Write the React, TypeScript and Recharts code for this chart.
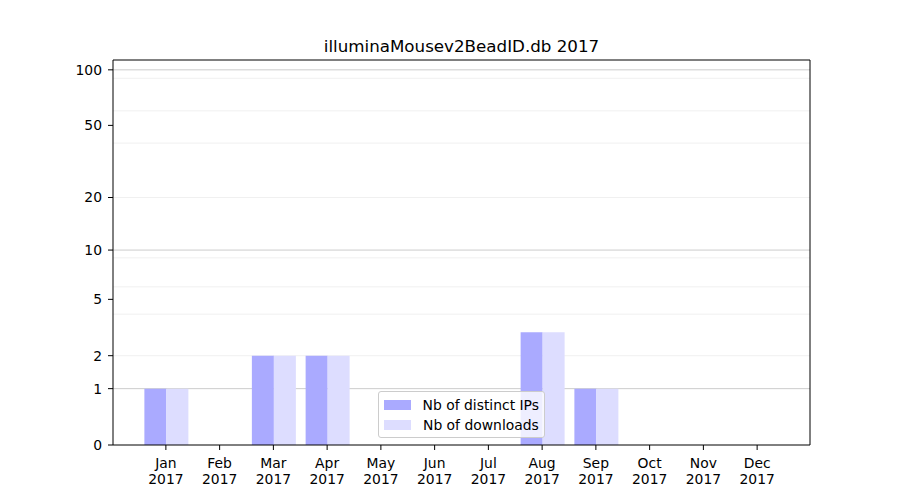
import React from "react";
import { BarChart, Bar, XAxis, YAxis, CartesianGrid, Legend } from "recharts";

const title = "illuminaMousev2BeadID.db 2017";
const year = "2017";
const months = ["Jan", "Feb", "Mar", "Apr", "May", "Jun", "Jul", "Aug", "Sep", "Oct", "Nov", "Dec"];
const distinctIps = [1, 0, 2, 2, 0, 0, 0, 3, 1, 0, 0, 0];
const downloads = [1, 0, 2, 2, 0, 0, 0, 3, 1, 0, 0, 0];
const yTickLabels = [0, 1, 2, 5, 10, 20, 50, 100];
const majorGrid = [1, 10, 100];
const minorGrid = [2, 3, 4, 5, 6, 7, 8, 9, 20, 30, 40, 50, 60, 70, 80, 90];
const yMax = 113;

// log(1 + x) scale, like the matplotlib original
const fwd = (v: number) => Math.log10(1 + v);
const inv = (v: number) => Math.round(Math.pow(10, v) - 1);

const data = months.map((m, i) => ({
  month: m,
  ips: fwd(distinctIps[i]),
  downloads: fwd(downloads[i]),
}));

const FONT = "DejaVu Sans, sans-serif";
const IPS_COLOR = "#aaaaff";
const DL_COLOR = "#ddddff";

const MonthTick = (props: any) => {
  const { x, y, payload } = props;
  return (
    <g transform={`translate(${x},${y})`}>
      <text textAnchor="middle" fontFamily={FONT} fontSize={13.9} fill="#000">
        <tspan x={0} dy={16}>{payload.value}</tspan>
        <tspan x={0} dy={16}>{year}</tspan>
      </text>
    </g>
  );
};

const LegendBox = () => (
  <div
    style={{
      boxSizing: "border-box",
      background: "rgba(255,255,255,0.8)",
      border: "1px solid #cccccc",
      borderRadius: 3,
      padding: "3px 5px",
      fontFamily: FONT,
      fontSize: 13.9,
      color: "#000",
      width: 167,
      height: 47,
      whiteSpace: "nowrap",
      textAlign: "left",
    }}
  >
    {[
      { label: "Nb of distinct IPs", color: IPS_COLOR },
      { label: "Nb of downloads", color: DL_COLOR },
    ].map((it) => (
      <div key={it.label} style={{ display: "flex", alignItems: "center", height: 20 }}>
        <span style={{ display: "inline-block", width: 27, height: 10, background: it.color, marginRight: 12 }} />
        <span>{it.label}</span>
      </div>
    ))}
  </div>
);

export default function App() {
  return (
    <div style={{ position: "absolute", left: 0, top: 0, width: 900, height: 500, background: "#fff" }}>
      <div
        style={{
          position: "absolute",
          left: 113,
          width: 697,
          top: 36,
          textAlign: "center",
          fontFamily: FONT,
          fontSize: 16.7,
          lineHeight: "20px",
          color: "#000",
        }}
      >
        {title}
      </div>
      <BarChart
        width={900}
        height={500}
        data={data}
        margin={{ top: 59, right: 89, bottom: 15, left: 0 }}
        barCategoryGap="10%"
        barGap={0}
      >
        <CartesianGrid vertical={false} horizontalValues={minorGrid.map(fwd)} stroke="#ececec" strokeWidth={0.8} />
        <CartesianGrid vertical={false} horizontalValues={majorGrid.map(fwd)} stroke="#cccccc" strokeWidth={1} />
        <XAxis
          dataKey="month"
          padding={{ left: 26, right: 26 }}
          height={40}
          tick={<MonthTick />}
          tickSize={5}
          tickLine={{ stroke: "#000" }}
          axisLine={{ stroke: "#000" }}
          interval={0}
        />
        <XAxis
          xAxisId="top"
          dataKey="month"
          orientation="top"
          padding={{ left: 26, right: 26 }}
          height={1}
          tick={false}
          tickLine={false}
          axisLine={{ stroke: "#000" }}
        />
        <YAxis
          type="number"
          domain={[0, fwd(yMax)]}
          ticks={yTickLabels.map(fwd)}
          tickFormatter={(v: number) => String(inv(v))}
          width={113}
          tickSize={5}
          tickMargin={6}
          tick={{ fontFamily: FONT, fontSize: 13.9, fill: "#000" }}
          tickLine={{ stroke: "#000" }}
          axisLine={{ stroke: "#000" }}
          allowDataOverflow
        />
        <YAxis
          yAxisId="right"
          orientation="right"
          type="number"
          domain={[0, fwd(yMax)]}
          width={1}
          tick={false}
          tickLine={false}
          axisLine={{ stroke: "#000" }}
        />
        <Legend
          layout="vertical"
          align="center"
          verticalAlign="middle"
          content={<LegendBox />}
          wrapperStyle={{ left: 378, top: 391, width: 167, height: 47 }}
        />
        <Bar dataKey="ips" fill={IPS_COLOR} isAnimationActive={false} />
        <Bar dataKey="downloads" fill={DL_COLOR} isAnimationActive={false} />
      </BarChart>
    </div>
  );
}
